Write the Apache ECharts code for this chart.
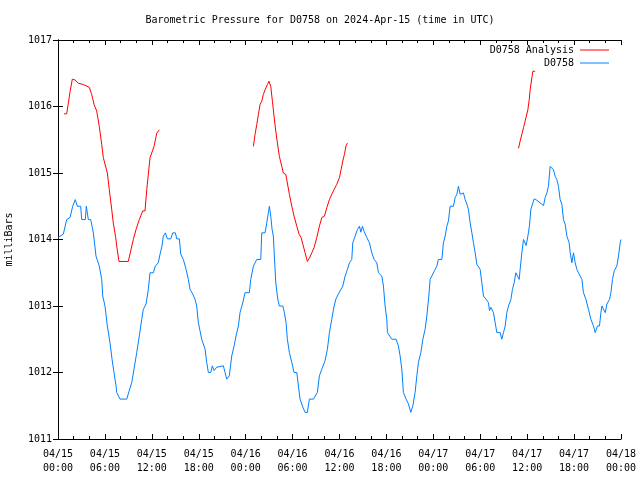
<!DOCTYPE html>
<html>
<head>
<meta charset="utf-8">
<script src="https://cdn.jsdelivr.net/npm/echarts@6/dist/echarts.min.js"></script>
<style>html,body{margin:0;padding:0;background:#fff;}#c{width:640px;height:480px;}</style>
</head>
<body>
<div id="c"></div>
<script>
// x values are hours since 2024-04-15 00:00 UTC
const xTickLabels = ["04/15\n00:00","04/15\n06:00","04/15\n12:00","04/15\n18:00","04/16\n00:00","04/16\n06:00","04/16\n12:00","04/16\n18:00","04/17\n00:00","04/17\n06:00","04/17\n12:00","04/17\n18:00","04/18\n00:00"];

const obsHours = [0,0.68,1.11,1.54,1.88,2.21,2.47,2.90,3.03,3.49,3.62,3.88,4.18,4.52,4.86,5.28,5.59,5.72,6.01,6.31,6.65,6.91,7.16,7.42,7.51,7.93,8.79,9.12,9.43,9.72,10.07,10.40,10.71,10.91,11.26,11.55,11.77,12.19,12.45,12.83,13.05,13.30,13.47,13.73,13.98,14.42,14.67,15.01,15.19,15.52,15.70,16.03,16.38,16.67,16.89,17.23,17.53,17.74,17.95,18.38,18.81,19.02,19.23,19.54,19.74,19.96,20.30,20.51,21.15,21.36,21.58,21.91,22.22,22.52,22.77,23.07,23.28,23.63,23.92,24.47,24.65,24.99,25.42,25.93,26.06,26.48,26.70,26.90,27.03,27.21,27.38,27.54,27.67,27.85,28.11,28.31,28.75,28.95,29.17,29.33,29.59,29.90,30.19,30.54,30.74,30.96,31.31,31.60,31.89,32.15,32.66,33.17,33.43,33.74,34.16,34.45,34.71,35.01,35.31,35.56,35.86,36.08,36.42,36.72,37.01,37.27,37.57,37.70,38.00,38.29,38.55,38.73,38.93,39.15,39.49,39.83,40.13,40.43,40.77,40.98,41.41,41.62,41.83,42.05,42.13,42.69,43.24,43.53,43.75,43.97,44.17,44.52,44.81,45.12,45.38,45.67,45.89,46.09,46.40,46.66,46.95,47.17,47.42,47.59,47.81,48.14,48.45,48.65,49.09,49.29,49.51,49.73,49.93,50.15,50.57,50.79,51.01,51.21,51.43,51.65,51.85,52.07,52.29,52.49,52.71,52.93,53.13,53.35,53.56,53.99,54.20,54.41,54.75,55.05,55.18,55.36,55.56,55.69,55.91,56.12,56.55,56.76,56.97,57.19,57.40,57.61,57.92,58.12,58.34,58.55,58.76,58.98,59.10,59.32,59.53,59.74,59.87,60.09,60.29,60.47,60.73,60.90,61.24,61.66,62.09,62.30,62.52,62.72,62.94,63.16,63.36,63.58,63.80,64.00,64.22,64.44,64.64,64.86,65.08,65.37,65.50,65.72,65.92,66.14,66.36,66.56,67.00,67.20,67.51,67.84,68.15,68.48,68.70,68.99,69.25,69.43,69.56,69.76,69.98,70.20,70.53,70.71,70.91,71.14,71.47,71.68,71.90,72.0];
const obsValues = [1014.03,1014.08,1014.3,1014.33,1014.5,1014.6,1014.5,1014.5,1014.3,1014.3,1014.5,1014.3,1014.3,1014.1,1013.75,1013.6,1013.4,1013.15,1013.0,1012.7,1012.45,1012.2,1012.0,1011.8,1011.7,1011.6,1011.6,1011.73,1011.85,1012.05,1012.3,1012.55,1012.8,1012.95,1013.03,1013.25,1013.5,1013.5,1013.6,1013.65,1013.78,1013.9,1014.05,1014.1,1014.01,1014.01,1014.1,1014.1,1014.01,1014.01,1013.78,1013.7,1013.55,1013.4,1013.25,1013.18,1013.1,1013.0,1012.75,1012.5,1012.35,1012.15,1012.0,1012.0,1012.1,1012.03,1012.08,1012.1,1012.1,1012.0,1011.9,1011.95,1012.25,1012.4,1012.55,1012.7,1012.9,1013.05,1013.2,1013.2,1013.4,1013.6,1013.7,1013.7,1014.1,1014.1,1014.25,1014.4,1014.5,1014.35,1014.15,1014.05,1013.75,1013.35,1013.1,1013.0,1013.0,1012.9,1012.75,1012.5,1012.3,1012.15,1012.0,1012.0,1011.8,1011.6,1011.48,1011.4,1011.4,1011.6,1011.6,1011.7,1011.95,1012.05,1012.18,1012.35,1012.6,1012.8,1013.0,1013.11,1013.18,1013.21,1013.3,1013.45,1013.55,1013.65,1013.7,1013.95,1014.05,1014.15,1014.2,1014.11,1014.2,1014.12,1014.03,1013.95,1013.8,1013.7,1013.65,1013.5,1013.45,1013.3,1013.0,1012.8,1012.6,1012.5,1012.5,1012.4,1012.25,1012.05,1011.7,1011.6,1011.53,1011.4,1011.5,1011.7,1011.95,1012.15,1012.3,1012.5,1012.65,1012.85,1013.15,1013.4,1013.45,1013.53,1013.6,1013.7,1013.7,1013.95,1014.05,1014.2,1014.28,1014.5,1014.5,1014.63,1014.68,1014.8,1014.68,1014.65,1014.7,1014.6,1014.53,1014.45,1014.25,1014.1,1013.95,1013.8,1013.63,1013.55,1013.35,1013.15,1013.1,1013.05,1012.93,1012.98,1013.0,1012.9,1012.75,1012.6,1012.6,1012.5,1012.6,1012.7,1012.9,1013.0,1013.1,1013.25,1013.35,1013.5,1013.45,1013.4,1013.55,1013.8,1014.0,1014.0,1013.91,1014.05,1014.2,1014.45,1014.55,1014.61,1014.59,1014.55,1014.51,1014.63,1014.7,1014.8,1015.1,1015.1,1015.05,1014.95,1014.9,1014.8,1014.6,1014.53,1014.3,1014.23,1014.05,1013.95,1013.8,1013.65,1013.8,1013.65,1013.55,1013.5,1013.4,1013.2,1013.1,1012.95,1012.8,1012.7,1012.6,1012.7,1012.7,1012.9,1013.0,1012.98,1012.9,1013.03,1013.1,1013.2,1013.4,1013.53,1013.6,1013.75,1013.95,1014.0];

// null entries mark gaps in the analysis series
const anaHours = [0.77,1.11,1.32,1.54,1.83,2.17,2.60,3.24,4.00,4.31,4.61,4.95,5.28,5.59,5.80,6.01,6.31,6.56,6.87,7.07,7.38,7.51,7.80,8.99,9.30,9.63,9.98,10.40,10.84,11.13,11.35,11.77,11.99,12.28,12.63,12.96,
  18.0,
  24.99,25.20,25.42,25.63,25.84,26.06,26.26,26.48,26.78,26.99,27.21,27.42,27.63,27.85,28.06,28.31,28.62,28.82,29.13,29.33,29.59,29.90,30.19,30.54,30.83,31.09,31.31,31.60,31.89,32.15,32.46,32.75,33.10,33.43,33.74,34.07,34.38,34.71,35.01,35.31,35.65,35.99,36.20,36.42,36.63,36.84,37.01,
  48.0,
  58.89,59.10,59.32,59.53,59.74,59.96,60.09,60.26,60.38,60.60,60.73,61.02];
const anaValues = [1015.89,1015.89,1016.05,1016.22,1016.41,1016.4,1016.35,1016.33,1016.29,1016.18,1016.03,1015.93,1015.7,1015.43,1015.23,1015.23,1015.0,1014.75,1014.45,1014.25,1014.03,1013.9,1013.67,1013.67,1013.83,1014.0,1014.15,1014.3,1014.43,1014.43,1014.75,1015.23,1015.23,1015.4,1015.6,1015.65,
  null,
  1015.4,1015.58,1015.73,1015.88,1016.03,1016.08,1016.18,1016.25,1016.33,1016.38,1016.3,1016.08,1015.85,1015.63,1015.45,1015.25,1015.1,1015.0,1014.98,1014.85,1014.68,1014.5,1014.35,1014.2,1014.08,1014.03,1013.93,1013.8,1013.67,1013.72,1013.8,1013.88,1014.03,1014.2,1014.33,1014.35,1014.48,1014.6,1014.68,1014.75,1014.83,1014.93,1015.05,1015.18,1015.28,1015.41,1015.45,
  null,
  1015.37,1015.48,1015.58,1015.68,1015.78,1015.81,1015.95,1016.1,1016.25,1016.43,1016.53,1016.53];

const titleText = "Barometric Pressure for D0758 on 2024-Apr-15 (time in UTC)";
const yName = "milliBars";
const seriesNames = ["D0758 Analysis", "D0758"];

const FONT = "DejaVu Sans Mono";
const pair = (xs, ys) => xs.map((x, i) => [x, ys[i]]);

const chart = echarts.init(document.getElementById('c'), null, {renderer: 'canvas'});
const axisBase = {
  axisLine: {show: true, lineStyle: {color: '#000', width: 1}},
  splitLine: {show: false}
};
chart.setOption({
  animation: false,
  backgroundColor: '#fff',
  textStyle: {fontFamily: FONT, color: '#000'},
  title: {
    text: titleText, left: 'center', top: 10,
    textStyle: {fontFamily: FONT, fontSize: 10, fontWeight: 'normal', color: '#000'}
  },
  legend: {
    orient: 'vertical', align: 'right', right: 26, top: 40,
    itemWidth: 29, itemHeight: 1, itemGap: 3, icon: 'rect',
    textStyle: {fontFamily: FONT, fontSize: 10, color: '#000', padding: [0, 1, 0, 0]},
    data: seriesNames
  },
  grid: {left: 58, right: 19, top: 40, bottom: 41, containLabel: false, outerBoundsMode: 'none'},
  xAxis: [
    Object.assign({}, axisBase, {
      type: 'value', min: 0, max: 72, interval: 6, position: 'bottom',
      axisTick: {inside: true, length: 5, lineStyle: {color: '#000'}},
      minorTick: {show: true, splitNumber: 3, length: 3, lineStyle: {color: '#000'}},
      axisLabel: {
        margin: 8, fontFamily: FONT, fontSize: 10, color: '#000', lineHeight: 14,
        formatter: v => xTickLabels[Math.round(v / 6)] || ''
      }
    }),
    Object.assign({}, axisBase, {
      type: 'value', min: 0, max: 72, interval: 6, position: 'top',
      axisTick: {inside: true, length: 5, lineStyle: {color: '#000'}},
      minorTick: {show: true, splitNumber: 3, length: 3, lineStyle: {color: '#000'}},
      axisLabel: {show: false}
    })
  ],
  yAxis: [
    Object.assign({}, axisBase, {
      type: 'value', min: 1011, max: 1017, interval: 1, position: 'left',
      name: yName, nameLocation: 'middle', nameGap: 44, nameRotate: 90,
      nameTextStyle: {fontFamily: FONT, fontSize: 10, color: '#000'},
      axisTick: {inside: true, length: 5, lineStyle: {color: '#000'}},
      axisLabel: {margin: 6, fontFamily: FONT, fontSize: 10, color: '#000', formatter: v => String(v)}
    }),
    Object.assign({}, axisBase, {
      type: 'value', min: 1011, max: 1017, interval: 1, position: 'right',
      axisTick: {inside: true, length: 5, lineStyle: {color: '#000'}},
      axisLabel: {show: false}
    })
  ],
  series: [
    {
      name: seriesNames[0], type: 'line', data: pair(anaHours, anaValues),
      showSymbol: false, symbol: 'none', connectNulls: false,
      lineStyle: {color: '#ff0000', width: 1}, itemStyle: {color: '#ff0000'}
    },
    {
      name: seriesNames[1], type: 'line', data: pair(obsHours, obsValues),
      showSymbol: false, symbol: 'none',
      lineStyle: {color: '#0080ff', width: 1}, itemStyle: {color: '#0080ff'}
    }
  ]
});
</script>
</body>
</html>
